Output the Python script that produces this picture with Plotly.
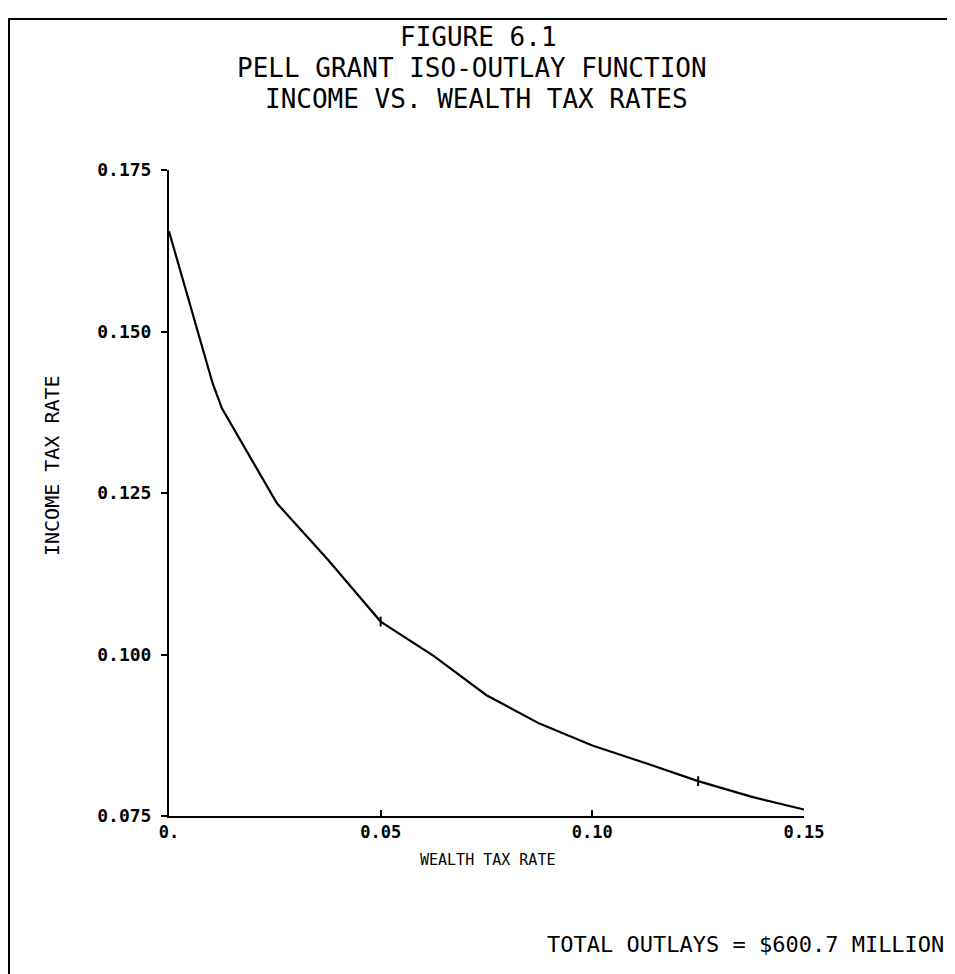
import plotly.graph_objects as go

# Data
wealth_tax = [0.0, 0.0103, 0.0125, 0.0255, 0.0375, 0.05, 0.0625, 0.075, 0.0875, 0.10, 0.1125, 0.125, 0.1375, 0.15]
income_tax = [0.1655, 0.1420, 0.1381, 0.1234, 0.1147, 0.1051, 0.0998, 0.0937, 0.0893, 0.0859, 0.0832, 0.0804, 0.0780, 0.0760]
marked_x = [0.05, 0.125]
marked_y = [0.1051, 0.0804]

x_ticks = [0.0, 0.05, 0.10, 0.15]
x_tick_text = ["0.", "0.05", "0.10", "0.15"]
y_ticks = [0.075, 0.100, 0.125, 0.150, 0.175]
y_tick_text = ["0.075", "0.100", "0.125", "0.150", "0.175"]

title_lines = ["FIGURE 6.1", "PELL GRANT ISO-OUTLAY FUNCTION", "INCOME VS. WEALTH TAX RATES"]
x_title = "WEALTH TAX RATE"
y_title = "INCOME TAX RATE"
note = "TOTAL OUTLAYS = $600.7 MILLION"

# page body has an 8px offset
OFF = 8
W, H = 955 - OFF, 974 - OFF
L, T = 169 - OFF, 170 - OFF
R = W - (804 - OFF)
B = H - (816 - OFF)
pw, ph = W - L - R, H - T - B

def px(xs):
    return (xs - OFF - L) / pw

def py(ys):
    return (H - B - (ys - OFF)) / ph

mono = "DejaVu Sans Mono"

fig = go.Figure()
fig.add_trace(go.Scatter(x=wealth_tax, y=income_tax, mode="lines",
                         line=dict(color="black", width=2.2), showlegend=False))
fig.add_trace(go.Scatter(x=marked_x, y=marked_y, mode="markers",
                         marker=dict(symbol="line-ns", size=7, line=dict(color="black", width=2)),
                         showlegend=False))

annots = []
for txt, xc, yc in zip(title_lines, [478, 472, 476], [37, 68, 99]):
    annots.append(dict(text=txt, xref="paper", yref="paper", x=px(xc), y=py(yc),
                       xanchor="center", yanchor="middle", showarrow=False,
                       font=dict(family=mono, size=26, color="black")))
annots.append(dict(text=x_title, xref="paper", yref="paper", x=px(487), y=py(860),
                   xanchor="center", yanchor="middle", showarrow=False,
                   font=dict(family=mono, size=15, color="black")))
annots.append(dict(text=y_title, xref="paper", yref="paper", x=px(52), y=py(465),
                   xanchor="center", yanchor="middle", showarrow=False, textangle=-90,
                   font=dict(family=mono, size=20, color="black")))
annots.append(dict(text=note, xref="paper", yref="paper", x=px(545), y=py(944),
                   xanchor="left", yanchor="middle", showarrow=False,
                   font=dict(family=mono, size=22, color="black")))

fig.update_layout(
    width=W, height=H,
    margin=dict(l=L, r=R, t=T, b=B),
    paper_bgcolor="white", plot_bgcolor="white",
    xaxis=dict(
        range=[0, 0.15], tickvals=x_ticks, ticktext=x_tick_text,
        showgrid=False, zeroline=False, showline=True, linecolor="black", linewidth=2,
        ticks="inside", ticklen=6, tickwidth=2, tickcolor="black",
        tickfont=dict(family=mono, size=17, color="black", weight="bold"),
    ),
    yaxis=dict(
        range=[0.075, 0.175], tickvals=y_ticks, ticktext=y_tick_text,
        showgrid=False, zeroline=False, showline=True, linecolor="black", linewidth=2,
        ticks="outside", ticklen=6, tickwidth=2, tickcolor="black", ticklabelstandoff=6,
        tickfont=dict(family=mono, size=18, color="black", weight="bold"),
    ),
    annotations=annots,
    shapes=[
        dict(type="line", xref="paper", yref="paper", x0=px(0), x1=px(955), y0=py(19), y1=py(19),
             line=dict(color="black", width=2)),
        dict(type="line", xref="paper", yref="paper", x0=px(9), x1=px(9), y0=py(19), y1=py(974),
             line=dict(color="black", width=2)),
    ],
)

fig.write_html("out.html")
